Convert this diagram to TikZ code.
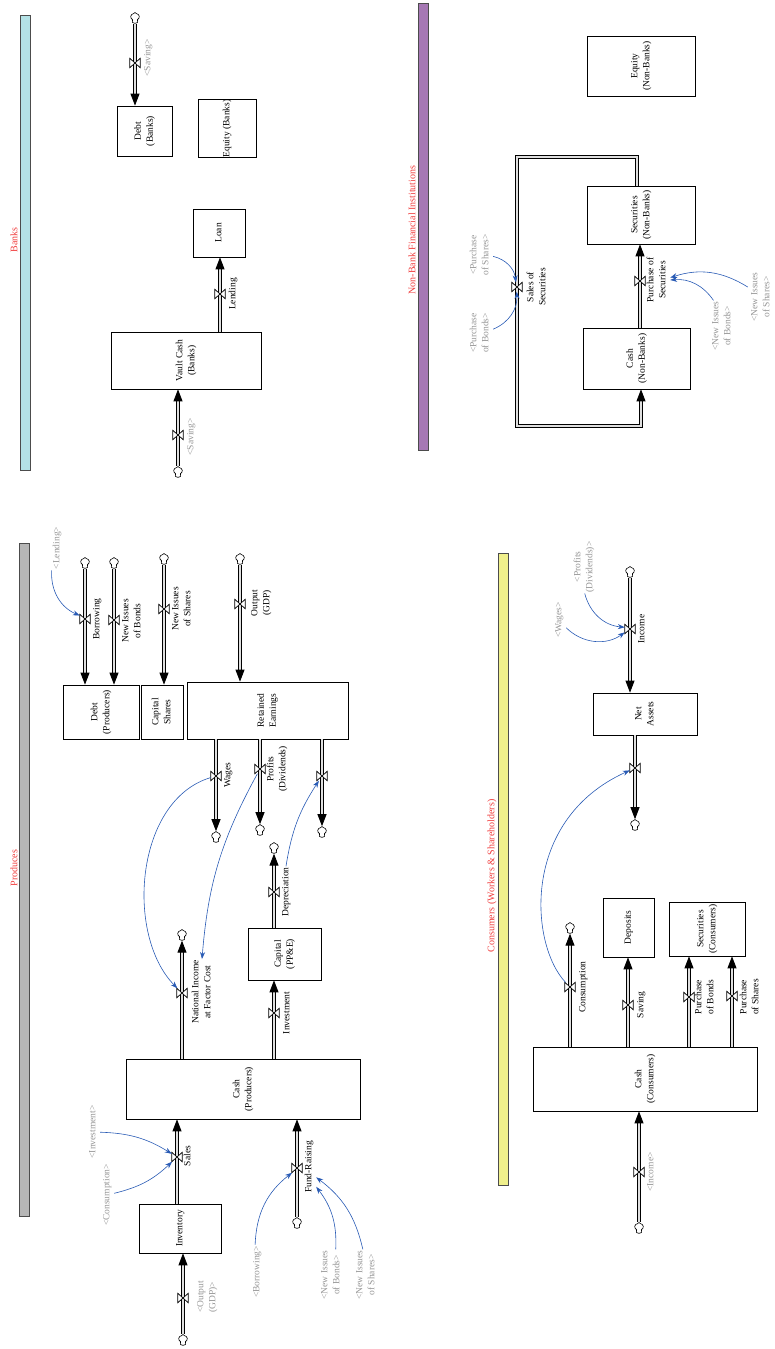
\documentclass[tikz,border=0pt]{standalone}
\usepackage{fontspec}
\setmainfont{Liberation Serif}
\usepackage{graphicx}
\usepackage{tikz}
\usetikzlibrary{arrows.meta}
\usetikzlibrary{shapes.symbols}

\definecolor{banksC}{RGB}{180,226,230}
\definecolor{nonbankC}{RGB}{166,120,180}
\definecolor{prodC}{RGB}{182,182,182}
\definecolor{consC}{RGB}{240,240,140}
\definecolor{titleC}{RGB}{240,60,60}
\definecolor{ghostC}{RGB}{150,150,150}
\definecolor{linkC}{RGB}{40,90,180}

\newcommand{\vt}[1]{\rotatebox{90}{\begin{tabular}{@{}c@{}}#1\end{tabular}}}
\newcommand{\fsz}{\fontsize{9.5}{12}\selectfont}

\tikzset{
	stock/.style={draw, line width=0.7pt, inner sep=0pt},
	cloudy/.style={cloud, cloud puffs=5, cloud puff arc=150, aspect=0.85, draw, fill=white, line width=0.6pt, inner sep=0pt, minimum width=9pt, minimum height=11pt},
	valve/.style={inner sep=0pt, minimum width=10pt, minimum height=9pt},
	pipe/.style={draw=black, line width=0.9pt, double=gray!25, double distance=1.6pt, -{Triangle[length=12pt,width=9pt]}},
	link/.style={draw=linkC, line width=0.6pt, -{Stealth[length=7pt,width=5pt]}},
	lbl/.style={inner sep=1pt},
	ghost/.style={inner sep=1pt, text=ghostC},
	lane/.style={draw=gray!60!black, line width=0.8pt, inner sep=0pt, minimum width=10pt},
	lanetitle/.style={text=titleC, inner sep=0pt, font=\fontsize{10}{12}\selectfont}
}

\begin{document}
\begin{tikzpicture}[x=1pt, y=-1pt, every node/.style={font=\fsz}]
	\useasboundingbox (0,0) rectangle (774,1349);

	% lanes
	\node[lane, fill=banksC, minimum height=455pt] (laneB) at (25.5,242.5) {};
	\node[lanetitle] (ttlB) at (14,240) {\rotatebox{90}{Banks}};
	\node[lane, fill=nonbankC, minimum height=447pt] (laneNB) at (423,226.5) {};
	\node[lanetitle] (ttlNB) at (412,230) {\rotatebox{90}{Non-Bank Financial Institutions}};
	\node[lane, fill=prodC, minimum height=673pt] (laneP) at (24.5,879.5) {};
	\node[lanetitle] (ttlP) at (14,868) {\rotatebox{90}{Produces}};
	\node[lane, fill=consC, minimum height=632pt] (laneC) at (503,869) {};
	\node[lanetitle] (ttlC) at (492,876) {\rotatebox{90}{Consumers (Workers \& Shareholders)}};

	% Banks
	\node[stock, minimum width=55pt, minimum height=50pt] (debtB) at (144.5,131) {\vt{Debt\\(Banks)}};
	\node[stock, minimum width=58pt, minimum height=57pt] (eqB) at (227,128.5) {\vt{Equity (Banks)}};
	\node[stock, minimum width=52pt, minimum height=48pt] (loan) at (219,233) {\vt{Loan}};
	\node[stock, minimum width=150pt, minimum height=57pt] (vaultB) at (186,360.5) {\vt{Vault Cash\\(Banks)}};
	\node[cloudy] (clSavB1) at (135,18) {};
	\node[cloudy] (clSavB2) at (178,472) {};
	\node[valve] (vSavB1) at (135,63) {};
	\node[valve] (vLend) at (220,294) {};
	\node[valve] (vSavB2) at (178,435) {};
	\draw[pipe] (clSavB1) -- (debtB.north -| clSavB1);
	\draw[pipe] (vaultB.north -| vLend) -- (loan.south -| vLend);
	\draw[pipe] (clSavB2) -- (vaultB.south -| clSavB2);
	\node[ghost] (gSavB1) at (148,58) {\vt{<Saving>}};
	\node[lbl] (lblLend) at (233,294) {\vt{Lending}};
	\node[ghost] (gSavB2) at (191,437) {\vt{<Saving>}};

	% Non-Bank Financial Institutions
	\node[stock, minimum width=108pt, minimum height=60pt] (eqNB) at (641,66) {\vt{Equity\\(Non-Banks)}};
	\node[stock, minimum width=108pt, minimum height=58pt] (secNB) at (641,215) {\vt{Securities\\(Non-Banks)}};
	\node[stock, minimum width=107pt, minimum height=61pt] (cashNB) at (636.5,358.5) {\vt{Cash\\(Non-Banks)}};
	\coordinate (lpA) at (637,157);
	\coordinate (lpB) at (517,157);
	\coordinate (lpC) at (517,426);
	\coordinate (lpD) at (641,426);
	\node[valve] (vPurch) at (640,281) {};
	\node[valve] (vSalesNB) at (517,287) {};
	\draw[pipe] (cashNB.north -| vPurch) -- (secNB.south -| vPurch);
	\draw[pipe] (secNB.north -| lpA) -- (lpA) -- (lpB) -- (lpC) -- (lpD) -- (cashNB.south -| lpD);
	\node[lbl] (lblPurch) at (657,280) {\vt{Purchase of\\Securities}};
	\node[lbl] (lblSalesNB) at (537,287) {\vt{Sales of\\Securities}};
	\node[ghost] (gPS) at (480,255) {\vt{<Purchase\\of Shares>}};
	\node[ghost] (gPB) at (480,333) {\vt{<Purchase\\of Bonds>}};
	\node[ghost] (gNIB) at (722,326) {\vt{<New Issues\\of Bonds>}};
	\node[ghost] (gNIS) at (761,297) {\vt{<New Issues\\of Shares>}};

	% Produces
	\node[stock, minimum width=76pt, minimum height=54pt] (debtP) at (101,712) {\vt{Debt\\(Producers)}};
	\node[stock, minimum width=42pt, minimum height=54pt] (capSh) at (162,712) {\vt{Capital\\Shares}};
	\node[stock, minimum width=161pt, minimum height=57pt] (retE) at (267.5,710.5) {\vt{Retained\\Earnings}};
	\node[stock, minimum width=73pt, minimum height=52pt] (capPPE) at (284.5,954) {\vt{Capital\\(PP\&E)}};
	\node[stock, minimum width=234pt, minimum height=60pt] (cashP) at (243,1089) {\vt{Cash\\(Producers)}};
	\node[stock, minimum width=82pt, minimum height=49pt] (invent) at (180,1228.5) {\vt{Inventory}};
	\node[cloudy] (clBorr) at (85,563) {};
	\node[cloudy] (clBonds) at (114,563) {};
	\node[cloudy] (clShares) at (164,559) {};
	\node[cloudy] (clOut) at (240,559) {};
	\node[cloudy] (clWages) at (216,837) {};
	\node[cloudy] (clProf) at (260,830) {};
	\node[cloudy] (clDep2) at (322,832) {};
	\node[cloudy] (clDep) at (274,848) {};
	\node[cloudy] (clNI) at (182,935) {};
	\node[cloudy] (clOutInv) at (183,1340) {};
	\node[cloudy] (clFund) at (297,1223) {};
	\node[valve] (vBorr) at (85,619) {};
	\node[valve] (vBonds) at (114,620) {};
	\node[valve] (vShares) at (164,609) {};
	\node[valve] (vOut) at (240,604) {};
	\node[valve] (vWages) at (216,776) {};
	\node[valve] (vProf) at (260,769) {};
	\node[valve] (vDep2) at (322,776) {};
	\node[valve] (vDep) at (274,892) {};
	\node[valve] (vInvest) at (274,1013) {};
	\node[valve] (vNI) at (182,993) {};
	\node[valve] (vSalesP) at (177,1157) {};
	\node[valve] (vOutInv) at (183,1298) {};
	\node[valve] (vFund) at (297,1168) {};
	\draw[pipe] (clBorr) -- (debtP.north -| clBorr);
	\draw[pipe] (clBonds) -- (debtP.north -| clBonds);
	\draw[pipe] (clShares) -- (capSh.north -| clShares);
	\draw[pipe] (clOut) -- (retE.north -| clOut);
	\draw[pipe] (retE.south -| clWages) -- (clWages);
	\draw[pipe] (retE.south -| clProf) -- (clProf);
	\draw[pipe] (retE.south -| clDep2) -- (clDep2);
	\draw[pipe] (capPPE.north -| clDep) -- (clDep);
	\draw[pipe] (cashP.north -| vInvest) -- (capPPE.south -| vInvest);
	\draw[pipe] (cashP.north -| clNI) -- (clNI);
	\draw[pipe] (invent.north -| vSalesP) -- (cashP.south -| vSalesP);
	\draw[pipe] (clOutInv) -- (invent.south -| clOutInv);
	\draw[pipe] (clFund) -- (cashP.south -| clFund);
	\node[ghost] (gLend) at (57,548) {\vt{<Lending>}};
	\node[lbl] (lblBorr) at (97,619) {\vt{Borrowing}};
	\node[lbl] (lblBonds) at (132,621) {\vt{New Issues\\of Bonds}};
	\node[lbl] (lblShares) at (182,609) {\vt{New Issues\\of Shares}};
	\node[lbl] (lblOut) at (261,603) {\vt{Output\\(GDP)}};
	\node[lbl] (lblWages) at (228,775) {\vt{Wages}};
	\node[lbl] (lblProf) at (277,769) {\vt{Profits\\(Dividends)}};
	\node[lbl] (lblDep) at (286,892) {\vt{Depreciation}};
	\node[lbl] (lblInvest) at (287,1013) {\vt{Investment}};
	\node[lbl] (lblNI) at (202,992) {\vt{National Income\\at Factor Cost}};
	\node[lbl] (lblSales) at (188,1156) {\vt{Sales}};
	\node[lbl] (lblFund) at (309,1167) {\vt{Fund-Raising}};
	\node[ghost] (gInv) at (93,1132) {\vt{<Investment>}};
	\node[ghost] (gCons) at (107,1195) {\vt{<Consumption>}};
	\node[ghost] (gBorr) at (257,1272) {\vt{<Borrowing>}};
	\node[ghost] (gNIB2) at (331,1275) {\vt{<New Issues\\of Bonds>}};
	\node[ghost] (gNIS2) at (366,1275) {\vt{<New Issues\\of Shares>}};
	\node[ghost] (gOut) at (207,1297) {\vt{<Output\\(GDP)>}};

	% Consumers
	\node[stock, minimum width=104pt, minimum height=42pt] (netA) at (645,714) {\vt{Net\\Assets}};
	\node[stock, minimum width=51pt, minimum height=59pt] (deposits) at (628.5,927.5) {\vt{Deposits}};
	\node[stock, minimum width=76pt, minimum height=54pt] (secC) at (707,929) {\vt{Securities\\(Consumers)}};
	\node[stock, minimum width=224pt, minimum height=64pt] (cashC) at (645,1079) {\vt{Cash\\(Consumers)}};
	\node[cloudy] (clInc) at (630,572) {};
	\node[cloudy] (clNA) at (635,825) {};
	\node[cloudy] (clCons) at (570,928) {};
	\node[cloudy] (clIncC) at (639,1228) {};
	\node[valve] (vInc) at (630,629) {};
	\node[valve] (vNAout) at (635,768) {};
	\node[valve] (vCons) at (570,987) {};
	\node[valve] (vSavC) at (628,1005) {};
	\node[valve] (vPB) at (689,997) {};
	\node[valve] (vPS) at (732,996) {};
	\node[valve] (vIncC) at (639,1172) {};
	\draw[pipe] (clInc) -- (netA.north -| clInc);
	\draw[pipe] (netA.south -| clNA) -- (clNA);
	\draw[pipe] (cashC.north -| clCons) -- (clCons);
	\draw[pipe] (cashC.north -| vSavC) -- (deposits.south -| vSavC);
	\draw[pipe] (cashC.north -| vPB) -- (secC.south -| vPB);
	\draw[pipe] (cashC.north -| vPS) -- (secC.south -| vPS);
	\draw[pipe] (clIncC) -- (cashC.south -| clIncC);
	\node[lbl] (lblInc) at (642,629) {\vt{Income}};
	\node[lbl] (lblCons) at (583,987) {\vt{Consumption}};
	\node[lbl] (lblSavC) at (641,1005) {\vt{Saving}};
	\node[lbl] (lblPB) at (705,997) {\vt{Purchase\\of Bonds}};
	\node[lbl] (lblPS) at (750,997) {\vt{Purchase\\of Shares}};
	\node[ghost] (gProfC) at (584,567) {\vt{<Profits\\(Dividends)>}};
	\node[ghost] (gWagesC) at (559,620) {\vt{<Wages>}};
	\node[ghost] (gIncC) at (651,1172) {\vt{<Income>}};

	% valves on top of the pipes
	\foreach \v in {vSavB1,vLend,vSavB2,vPurch,vSalesNB,vBorr,vBonds,vShares,vOut,vWages,vProf,vDep2,vDep,vInvest,vNI,vSalesP,vOutInv,vFund,vInc,vNAout,vCons,vSavC,vPB,vPS,vIncC}
		\draw[fill=white, line width=0.7pt] (\v.north west) -- (\v.south east) -- (\v.north east) -- (\v.south west) -- cycle;

	% connectors
	\draw[link] (gPS) to[bend left=35] (vSalesNB);
	\draw[link] (gPB) to[bend right=35] (vSalesNB);
	\draw[link] (gNIB) to[bend right=30] (lblPurch.east);
	\draw[link] (gNIS) to[bend right=25] (lblPurch.10);
	\draw[link] (gLend) to[bend right=35] (vBorr);
	\draw[link] (vWages) .. controls (135,800) and (125,935) .. (vNI);
	\draw[link] (vProf) to[bend right=12] (lblNI.north);
	\draw[link] (lblDep.north) to[bend left=12] (vDep2);
	\draw[link] (gInv) to[bend left=15] (vSalesP);
	\draw[link] (gCons) to[bend right=15] (vSalesP);
	\draw[link] (gBorr) to[bend left=25] (vFund);
	\draw[link] (gNIB2) to[bend right=20] (lblFund.-70);
	\draw[link] (gNIS2) to[bend right=20] (lblFund.-55);
	\draw[link] (gProfC) to[bend right=35] (vInc);
	\draw[link] (gWagesC) to[bend right=40] (vInc);
	\draw[link] (vCons) .. controls (530,945) and (520,820) .. (vNAout);
\end{tikzpicture}
\end{document}
